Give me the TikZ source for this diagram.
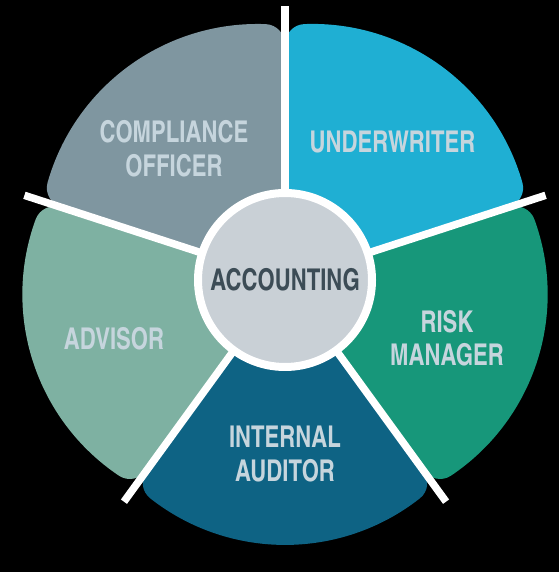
\documentclass[tikz,border=0pt]{standalone}
\usepackage{fontspec}
\newfontfamily\labelfont[Extension=.otf, FakeStretch=0.9]{texgyreheroscn-bold}
\usetikzlibrary{calc}
\definecolor{compcol}{HTML}{7F96A0}
\definecolor{undercol}{HTML}{1FAFD3}
\definecolor{riskcol}{HTML}{17977A}
\definecolor{auditcol}{HTML}{0E6384}
\definecolor{advcol}{HTML}{7EB1A2}
\definecolor{hubcol}{HTML}{C9D0D6}
\definecolor{hubtext}{HTML}{3C4C56}
\definecolor{lblcol}{HTML}{C6D5DD}
\begin{document}
\begin{tikzpicture}[x=1pt,y=1pt]
\tikzset{
  sep/.style={white, line width=7.5pt},
  lbl/.style={text=lblcol, align=center, inner sep=0pt, font=\labelfont\fontsize{30}{33.5}\selectfont},
  hub/.style={circle, fill=hubcol, draw=white, line width=8pt, minimum size=174pt, inner sep=0pt, text=hubtext, font=\labelfont\fontsize{30}{33.5}\selectfont}
}
\fill[black] (0,0) rectangle (559,572);
\useasboundingbox (0,0) rectangle (559,572);
\coordinate (C) at (285,292);
% petal-shaped sector, axis along 0 deg, spanning +-36 deg
\newcommand\drawsector[2]{%
  \fill[#2, shift={(C)}, rotate=#1] (0,0) -- (36:235.0)
    .. controls (36:246.1) and (211.55,143.5) .. (218.4,134.8)
    arc[start angle=38.1, end angle=-38.1, radius=218.4]
    .. controls (211.55,-143.5) and (-36:246.1) .. (-36:235.0) -- cycle;}
\drawsector{126}{compcol}
\drawsector{54}{undercol}
\drawsector{-18}{riskcol}
\drawsector{-90}{auditcol}
\drawsector{198}{advcol}
\foreach \a in {90,18,-54,-126,162}{
  \coordinate (s\a) at ($(C)+(\a:274)$);
  \draw[sep] (C) -- (s\a);
}
\node[hub] (acc) at (C) {ACCOUNTING};
\node[lbl] (comp) at (174,423.25) {COMPLIANCE\\OFFICER};
\node[lbl] (under) at (392.5,429.5) {UNDERWRITER};
\node[lbl] (risk) at (447,234) {RISK\\MANAGER};
\node[lbl] (audit) at (285,118) {INTERNAL\\AUDITOR};
\node[lbl] (adv) at (114,233) {ADVISOR};
\end{tikzpicture}
\end{document}
